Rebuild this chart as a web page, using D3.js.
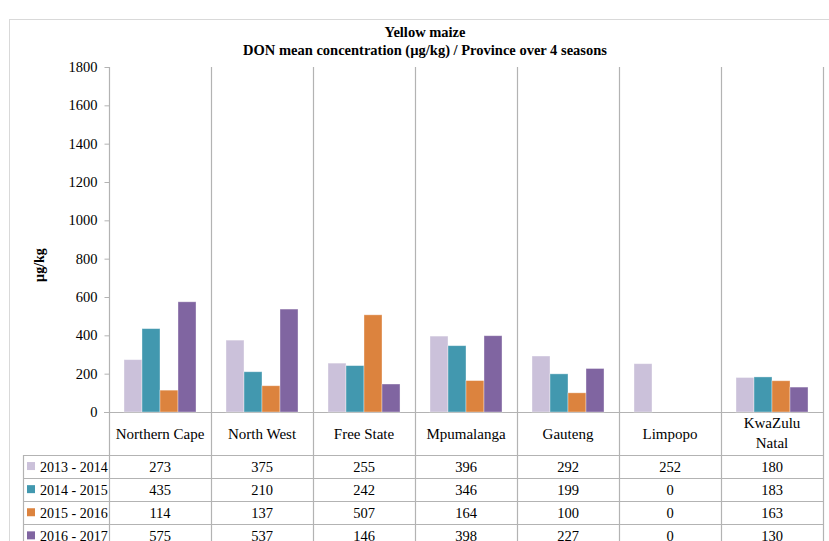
<!DOCTYPE html>
<html>
<head>
<meta charset="utf-8">
<script src="https://cdn.jsdelivr.net/npm/d3@7"></script>
<style>
  html, body { margin: 0; padding: 0; background: #fff; }
  svg { display: block; }
</style>
</head>
<body>
<svg id="chart" width="829" height="541"></svg>
<script>
const categories = ["Northern Cape", "North West", "Free State", "Mpumalanga", "Gauteng", "Limpopo", "KwaZulu Natal"];
const seasons = ["2013 - 2014", "2014 - 2015", "2015 - 2016", "2016 - 2017"];
const s2013 = [273, 375, 255, 396, 292, 252, 180];
const s2014 = [435, 210, 242, 346, 199, 0, 183];
const s2015 = [114, 137, 507, 164, 100, 0, 163];
const s2016 = [575, 537, 146, 398, 227, 0, 130];
const yTicks = [0, 200, 400, 600, 800, 1000, 1200, 1400, 1600, 1800];
const colors = ["#cbc1da", "#4298af", "#dc833e", "#8065a1"];
const titleLines = ["Yellow maize", "DON  mean concentration (\u00b5g/kg) / Province over  4 seasons"];
const yLabel = "\u00b5g/kg";

const seriesValues = [s2013, s2014, s2015, s2016];

(function draw() {
const svg = d3.select("#chart");
const serif = "'Liberation Serif', 'Times New Roman', serif";
const gridColor = "#b3b3b3";

// chart frame
svg.append("rect").attr("x", 9.5).attr("y", 19.5).attr("width", 840).attr("height", 560)
  .attr("fill", "none").attr("stroke", "#d9d9d9").attr("stroke-width", 1);

// title
svg.selectAll("text.title").data(titleLines).join("text")
  .attr("class", "title")
  .attr("x", 425).attr("y", (d, i) => 37 + i * 18)
  .attr("text-anchor", "middle")
  .attr("font-family", serif).attr("font-weight", "bold").attr("font-size", 14.5)
  .attr("fill", "#000")
  .text(d => d);

const pL = 109, pR = 823, pT = 67, base = 412, pB = 541;
const x0 = d3.scaleBand().domain(categories).range([pL, pR]).padding(0);
const bw = x0.bandwidth();
const x1 = d3.scaleBand().domain(seasons).range([bw * 0.147, bw * 0.853]).padding(0);
const y = d3.scaleLinear().domain([0, 1800]).range([base, pT]);

// y axis
const yAxis = d3.axisLeft(y).tickValues(yTicks).tickSize(5).tickPadding(7).tickFormat(d3.format("d"));
const gy = svg.append("g").attr("transform", `translate(${pL + 0.5},0)`).call(yAxis);
gy.select(".domain").remove();
gy.selectAll(".tick line").attr("stroke", gridColor);
gy.selectAll(".tick text").attr("font-family", serif).attr("font-size", 14.5).attr("fill", "#000");

// vertical lines: axis and category separators, extending through table
const vlines = [pL].concat(categories.map(c => x0(c) + bw));
svg.selectAll("line.vsep").data(vlines).join("line")
  .attr("class", "vsep")
  .attr("x1", d => Math.round(d) + 0.5).attr("x2", d => Math.round(d) + 0.5)
  .attr("y1", pT).attr("y2", pB)
  .attr("stroke", gridColor).attr("stroke-width", 1.2);

// baseline
svg.append("line").attr("x1", pL - 5).attr("x2", pR + 1)
  .attr("y1", base + 0.5).attr("y2", base + 0.5)
  .attr("stroke", gridColor).attr("stroke-width", 1.2);

// bars
const groups = svg.append("g").selectAll("g").data(categories).join("g")
  .attr("transform", c => `translate(${x0(c)},0)`);
groups.selectAll("rect").data((c, ci) => seasons.map((s, si) => ({ s, si, v: seriesValues[si][ci] })).filter(d => d.v > 0))
  .join("rect")
  .attr("x", d => x1(d.s))
  .attr("y", d => y(d.v))
  .attr("width", x1.bandwidth())
  .attr("height", d => base - y(d.v))
  .attr("fill", d => colors[d.si])
  .attr("stroke", "#ffffff").attr("stroke-opacity", 0.45).attr("stroke-width", 0.8);

// category labels
categories.forEach(c => {
  const cx = x0(c) + bw / 2;
  const words = c === "KwaZulu Natal" ? ["KwaZulu", "Natal"] : [c];
  const startY = words.length === 1 ? 439 : 428;
  words.forEach((w, i) => {
    svg.append("text").attr("x", cx).attr("y", startY + i * 20)
      .attr("text-anchor", "middle").attr("font-family", serif).attr("font-size", 15)
      .attr("fill", "#000").text(w);
  });
});

// table
const tableLeft = 23;
const rowTop = 455, rowH = 23.1;
seasons.forEach((s, si) => {
  const yTop = rowTop + si * rowH;
  svg.append("line").attr("x1", tableLeft).attr("x2", pR + 1)
    .attr("y1", Math.round(yTop) + 0.5).attr("y2", Math.round(yTop) + 0.5)
    .attr("stroke", gridColor).attr("stroke-width", 1.2);
  const cy = yTop + rowH / 2;
  svg.append("rect").attr("x", 27).attr("y", cy - 4.5).attr("width", 8).attr("height", 8)
    .attr("fill", colors[si]);
  svg.append("text").attr("x", 40).attr("y", cy + 5)
    .attr("font-family", serif).attr("font-size", 14).attr("fill", "#000").text(s);
  categories.forEach((c, ci) => {
    svg.append("text").attr("x", x0(c) + bw / 2).attr("y", cy + 5)
      .attr("text-anchor", "middle").attr("font-family", serif).attr("font-size", 14.5)
      .attr("fill", "#000").text(seriesValues[si][ci]);
  });
});
svg.append("line").attr("x1", tableLeft + 0.5).attr("x2", tableLeft + 0.5)
  .attr("y1", rowTop).attr("y2", pB)
  .attr("stroke", gridColor).attr("stroke-width", 1.2);

// y label
svg.append("text")
  .attr("transform", "translate(44,265) rotate(-90)")
  .attr("text-anchor", "middle").attr("font-family", serif).attr("font-weight", "bold")
  .attr("font-size", 14).attr("fill", "#000").text(yLabel);
})();
</script>
</body>
</html>
